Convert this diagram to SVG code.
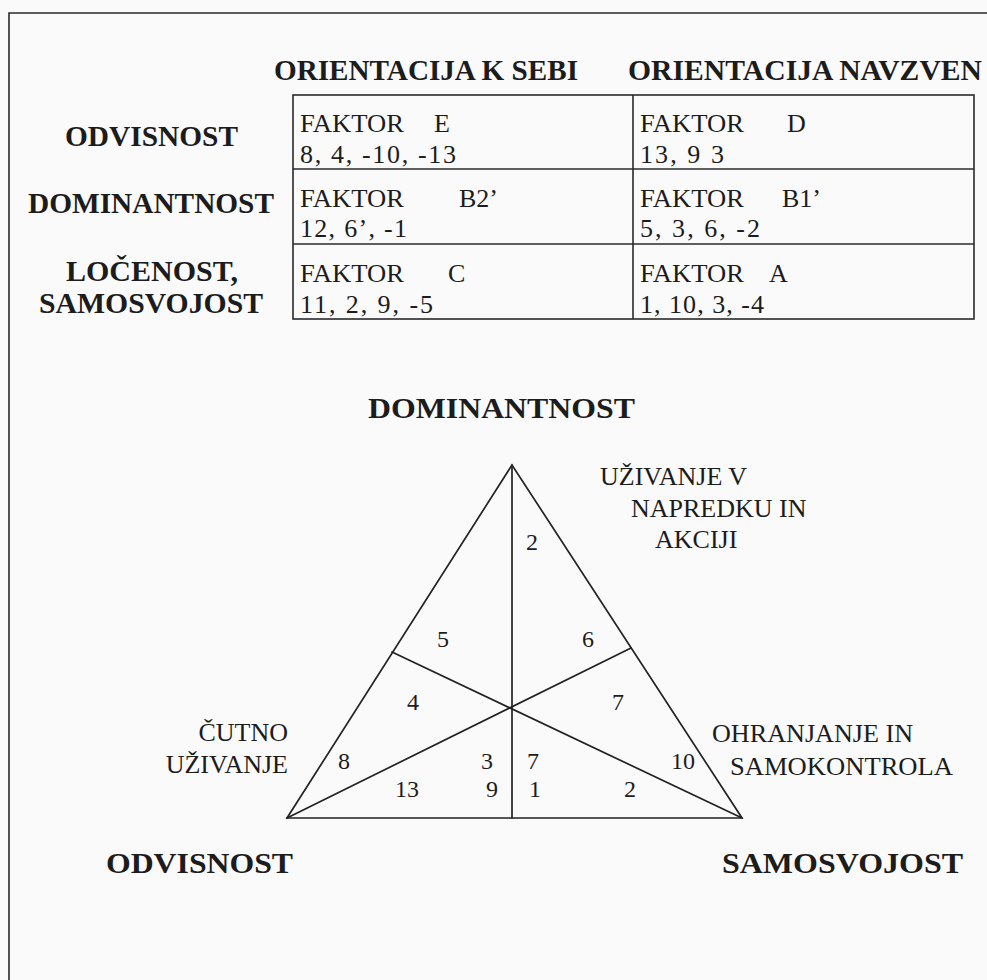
<svg xmlns="http://www.w3.org/2000/svg" width="987" height="980" viewBox="0 0 987 980">
<style>
text{font-family:"Liberation Serif","Times New Roman",serif;fill:#1c1c1c}
.h{font-weight:bold;font-size:30px}
.c{font-size:26px}
.n{font-size:24px}
.l{font-size:26px}
.ln{stroke:#222;stroke-width:1.7;fill:none;stroke-linecap:round}
.tb{stroke:#2a2a2a;stroke-width:1.6;fill:none}
</style>
<rect width="987" height="980" fill="#fafafa"/>
<g id="frame"><path d="M9,980 V13 H987" class="tb" stroke-width="2.2"/></g>
<g id="headers">
<text class="h" x="274" y="80" textLength="304" lengthAdjust="spacingAndGlyphs">ORIENTACIJA K SEBI</text>
<text class="h" x="628" y="80" textLength="354" lengthAdjust="spacingAndGlyphs">ORIENTACIJA NAVZVEN</text>
</g>
<g id="rowlabels">
<text class="h" x="65" y="146" font-size="31" textLength="173" lengthAdjust="spacingAndGlyphs">ODVISNOST</text>
<text class="h" x="28" y="213" font-size="31" textLength="246" lengthAdjust="spacingAndGlyphs">DOMINANTNOST</text>
<text class="h" x="66" y="281" font-size="31" textLength="172" lengthAdjust="spacingAndGlyphs">LOČENOST,</text>
<text class="h" x="39" y="313" font-size="31" textLength="224" lengthAdjust="spacingAndGlyphs">SAMOSVOJOST</text>
</g>
<g id="table">
<rect x="293" y="95" width="681" height="224" class="tb"/>
<line x1="633" y1="95" x2="633" y2="319" class="tb"/>
<line x1="293" y1="169" x2="974" y2="169" class="tb" stroke-width="2.2"/>
<line x1="293" y1="244" x2="974" y2="244" class="tb" stroke-width="2.2"/>
</g>
<g id="cellE"><text class="c" x="300" y="132"><tspan textLength="104" lengthAdjust="spacingAndGlyphs">FAKTOR</tspan><tspan x="434">E</tspan></text>
<text class="c" x="300" y="163" textLength="156" lengthAdjust="spacing">8, 4, -10, -13</text></g>
<g id="cellD"><text class="c" x="640" y="132"><tspan textLength="104" lengthAdjust="spacingAndGlyphs">FAKTOR</tspan><tspan x="787">D</tspan></text>
<text class="c" x="640" y="163" textLength="84" lengthAdjust="spacing">13, 9 3</text></g>
<g id="cellB2"><text class="c" x="300" y="207"><tspan textLength="104" lengthAdjust="spacingAndGlyphs">FAKTOR</tspan><tspan x="459">B2’</tspan></text>
<text class="c" x="300" y="237" textLength="107" lengthAdjust="spacing">12, 6’, -1</text></g>
<g id="cellB1"><text class="c" x="640" y="207"><tspan textLength="104" lengthAdjust="spacingAndGlyphs">FAKTOR</tspan><tspan x="782">B1’</tspan></text>
<text class="c" x="640" y="237" textLength="120" lengthAdjust="spacing">5, 3, 6, -2</text></g>
<g id="cellC"><text class="c" x="300" y="282"><tspan textLength="104" lengthAdjust="spacingAndGlyphs">FAKTOR</tspan><tspan x="448">C</tspan></text>
<text class="c" x="300" y="313" textLength="133" lengthAdjust="spacing">11, 2, 9, -5</text></g>
<g id="cellA"><text class="c" x="640" y="282"><tspan textLength="104" lengthAdjust="spacingAndGlyphs">FAKTOR</tspan><tspan x="769">A</tspan></text>
<text class="c" x="640" y="313" textLength="124" lengthAdjust="spacing">1, 10, 3, -4</text></g>
<g id="title"><text class="h" x="368" y="418" font-size="31" textLength="267" lengthAdjust="spacingAndGlyphs">DOMINANTNOST</text></g>
<g id="connectors">
<path d="M512,465 L287,818 L742,818 Z" class="ln" stroke-linejoin="miter"/>
<line x1="512" y1="465" x2="512" y2="818" class="ln"/>
<line x1="392" y1="652" x2="742" y2="818" class="ln"/>
<line x1="631" y1="648" x2="287" y2="818" class="ln"/>
</g>
<g id="numbers">
<text class="n" x="532" y="550" text-anchor="middle">2</text>
<text class="n" x="443" y="647" text-anchor="middle">5</text>
<text class="n" x="588" y="647" text-anchor="middle">6</text>
<text class="n" x="413" y="710" text-anchor="middle">4</text>
<text class="n" x="618" y="710" text-anchor="middle">7</text>
<text class="n" x="344" y="769" text-anchor="middle">8</text>
<text class="n" x="487" y="769" text-anchor="middle">3</text>
<text class="n" x="533" y="769" text-anchor="middle">7</text>
<text class="n" x="683" y="769" text-anchor="middle">10</text>
<text class="n" x="407" y="797" text-anchor="middle">13</text>
<text class="n" x="492" y="797" text-anchor="middle">9</text>
<text class="n" x="535" y="797" text-anchor="middle">1</text>
<text class="n" x="630" y="797" text-anchor="middle">2</text>
</g>
<g id="napredek">
<text class="l" x="600" y="485">UŽIVANJE V</text>
<text class="l" x="631" y="517">NAPREDKU IN</text>
<text class="l" x="655" y="548">AKCIJI</text>
</g>
<g id="cutno">
<text class="l" x="288" y="741" text-anchor="end">ČUTNO</text>
<text class="l" x="288" y="773" text-anchor="end">UŽIVANJE</text>
</g>
<g id="ohranjanje">
<text class="l" x="712" y="742" textLength="201" lengthAdjust="spacingAndGlyphs">OHRANJANJE IN</text>
<text class="l" x="730" y="775" textLength="223" lengthAdjust="spacingAndGlyphs">SAMOKONTROLA</text>
</g>
<g id="corners">
<text class="h" x="106" y="873" textLength="187" lengthAdjust="spacingAndGlyphs">ODVISNOST</text>
<text class="h" x="722" y="873" textLength="241" lengthAdjust="spacingAndGlyphs">SAMOSVOJOST</text>
</g>
</svg>
